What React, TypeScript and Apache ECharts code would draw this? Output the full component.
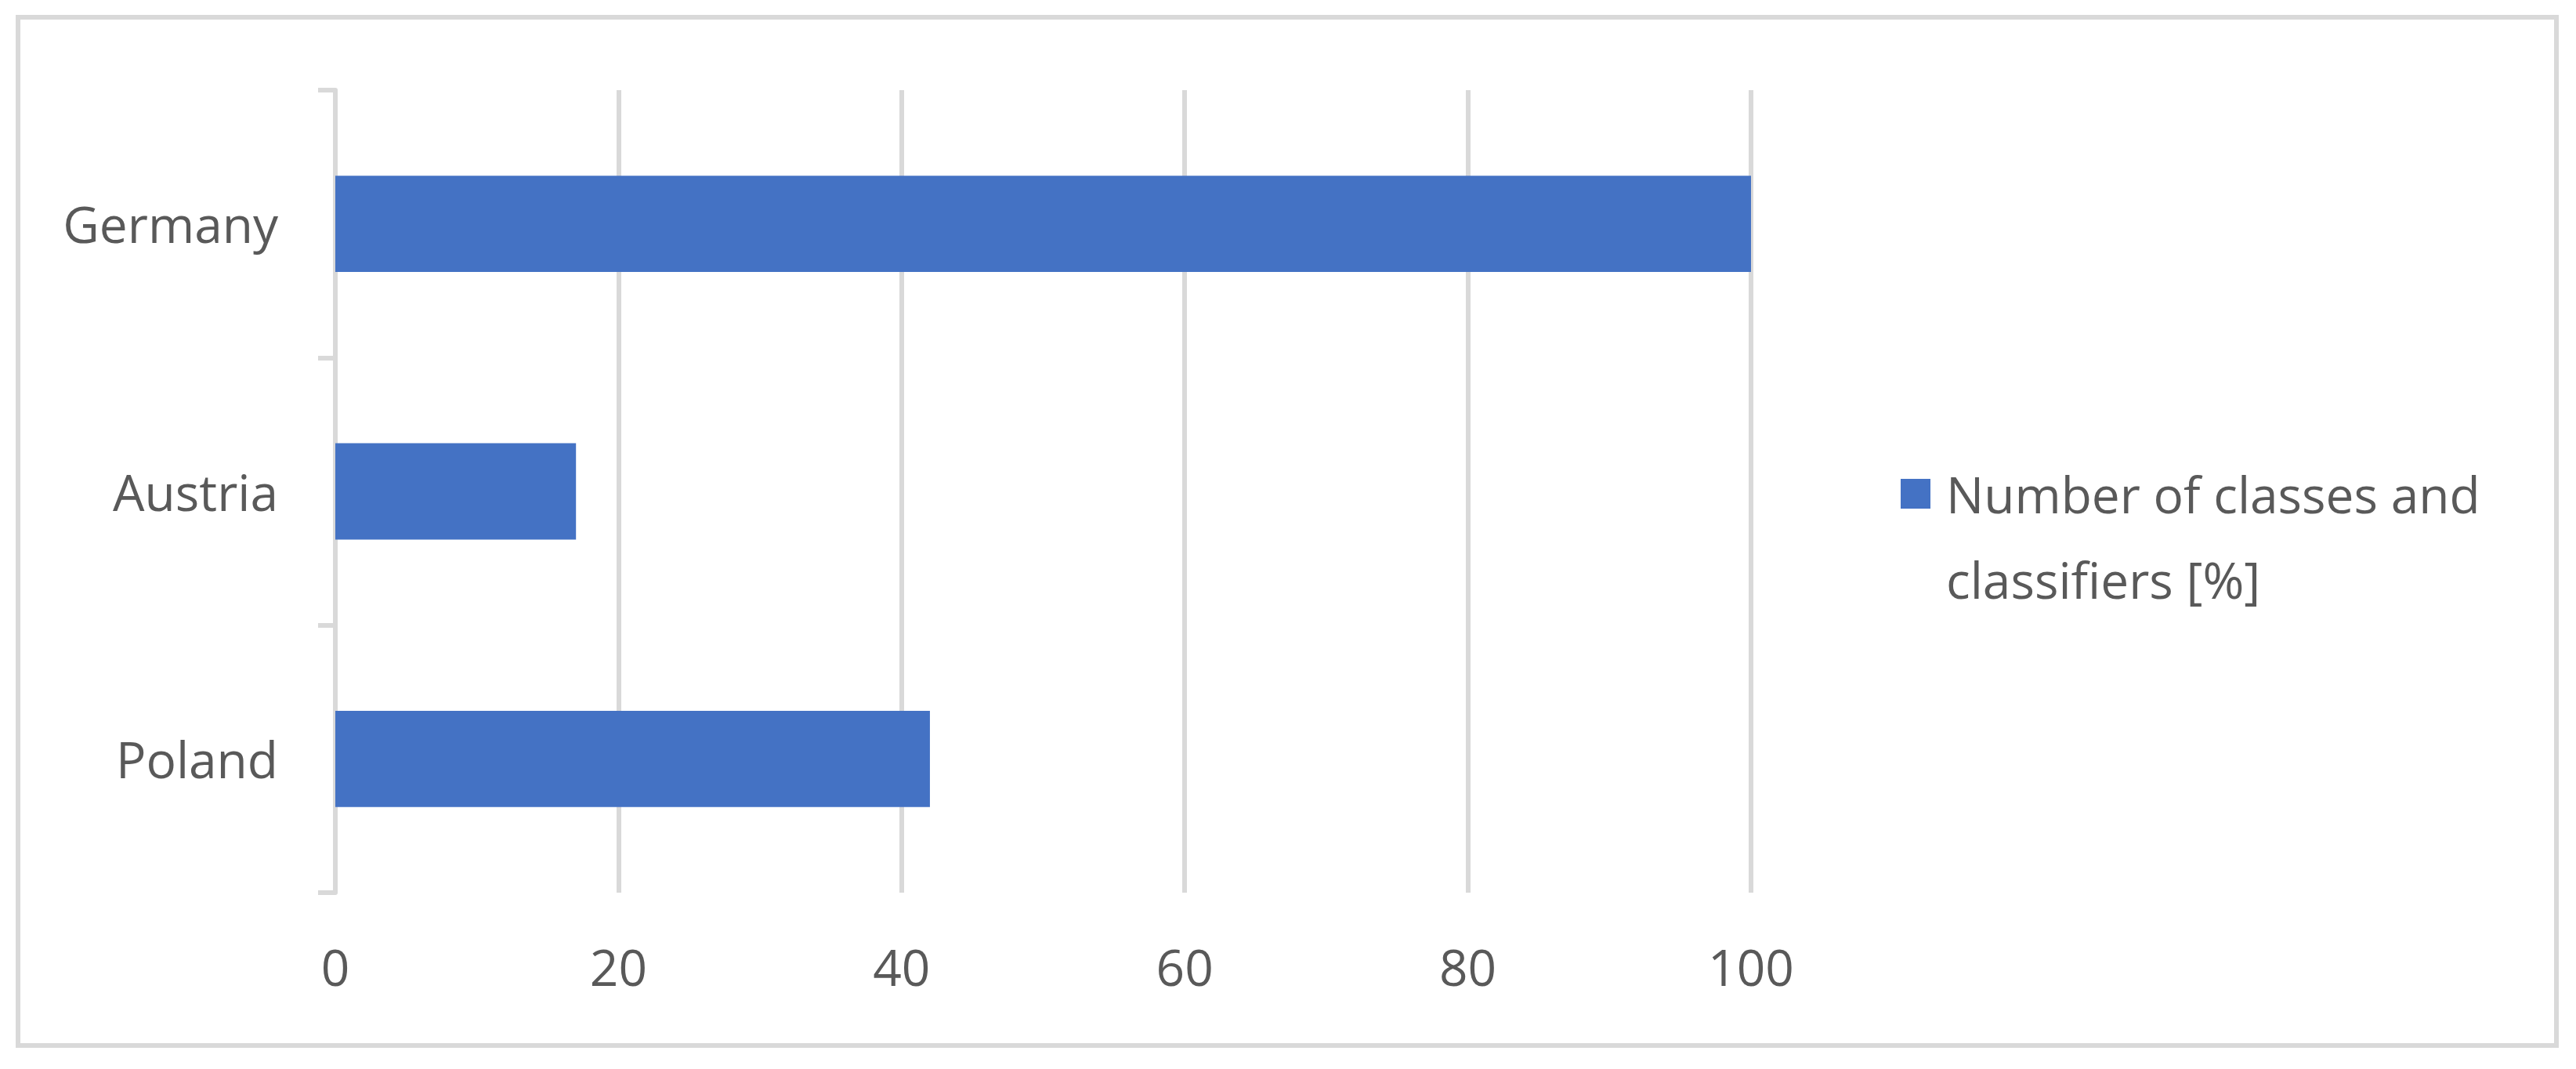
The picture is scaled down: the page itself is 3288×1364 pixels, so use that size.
import React, { useEffect, useRef } from "react";
import * as echarts from "echarts";

const categories = ["Germany", "Austria", "Poland"];
const values = [100, 17, 42];
const seriesName = "Number of classes and classifiers [%]";
const legendLines = ["Number of classes and", "classifiers [%]"];
const xTicks = { min: 0, max: 100, interval: 20 };

const W = 3288;
const H = 1364;
const FONT = "'Open Sans', 'Noto Sans', sans-serif";
const TEXT = "#595959";
const GRID = "#d9d9d9";
const BAR = "#4472c4";

export default function App() {
  const ref = useRef<HTMLDivElement>(null);
  useEffect(() => {
    document.body.style.margin = "0";
    const chart = echarts.init(ref.current!, null, { renderer: "svg" });
    chart.setOption({
      animation: false,
      backgroundColor: "#ffffff",
      textStyle: { fontFamily: FONT },
      grid: { left: 428, right: W - 2235, top: 115, bottom: H - 1139, containLabel: false },
      xAxis: {
        type: "value",
        min: xTicks.min,
        max: xTicks.max,
        interval: xTicks.interval,
        axisLine: { show: false },
        axisTick: { show: false },
        splitLine: { show: true, lineStyle: { color: GRID, width: 6 } },
        axisLabel: { color: TEXT, fontSize: 64, fontFamily: FONT, margin: 62 },
      },
      yAxis: {
        type: "category",
        data: categories,
        inverse: true,
        axisLine: { show: true, lineStyle: { color: GRID, width: 6 } },
        axisTick: { show: true, length: 22, lineStyle: { color: GRID, width: 6 } },
        splitLine: { show: false },
        axisLabel: { color: TEXT, fontSize: 64, fontFamily: FONT, margin: 73 },
      },
      series: [
        {
          type: "bar",
          name: seriesName,
          data: values,
          barWidth: "36%",
          itemStyle: { color: BAR },
        },
      ],
      graphic: [
        {
          type: "rect",
          shape: { x: 23, y: 22, width: 3240, height: 1312 },
          style: { fill: "none", stroke: GRID, lineWidth: 6 },
          silent: true,
        },
        {
          type: "rect",
          shape: { x: 2426, y: 611, width: 38, height: 38 },
          style: { fill: BAR },
        },
        {
          type: "text",
          x: 2484,
          y: 630,
          style: {
            text: legendLines[0],
            fill: TEXT,
            font: `64px ${FONT}`,
            verticalAlign: "middle",
            align: "left",
          },
        },
        {
          type: "text",
          x: 2484,
          y: 739,
          style: {
            text: legendLines[1],
            fill: TEXT,
            font: `64px ${FONT}`,
            verticalAlign: "middle",
            align: "left",
          },
        },
      ],
    });
    return () => chart.dispose();
  }, []);
  return <div ref={ref} style={{ width: W, height: H }} />;
}
